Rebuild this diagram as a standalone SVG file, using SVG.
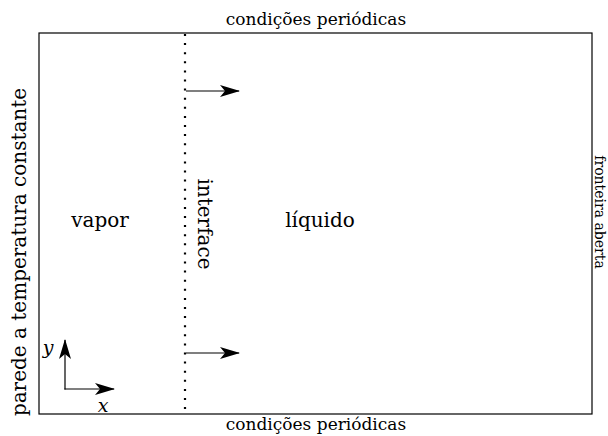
<svg xmlns="http://www.w3.org/2000/svg" width="608" height="436" viewBox="0 0 608 436">
<style>
text{font-family:"DejaVu Serif","Liberation Serif","Noto Serif",serif;font-size:20px;fill:#000}
.per{font-size:17px}
.it{font-style:italic;font-size:19px}
.ln{stroke:#000;stroke-width:1.2;fill:none}
</style>
<defs>
<marker id="ah" viewBox="0 0 20 12" refX="19" refY="6" markerWidth="20" markerHeight="12" markerUnits="userSpaceOnUse" orient="auto">
<path d="M0,0 L20,6 L0,12 L5,6 Z" fill="#000"/>
</marker>
</defs>
<rect width="608" height="436" fill="#fff"/>
<g id="domain">
<rect x="39" y="33" width="553" height="381" fill="none" stroke="#000" stroke-width="1.2"/>
</g>
<g id="interface">
<line x1="185" y1="34" x2="185" y2="414" stroke="#000" stroke-width="2.2" stroke-dasharray="2 7.1"/>
<text transform="translate(198,224) rotate(90)" text-anchor="middle">interface</text>
</g>
<g id="labels">
<text class="per" x="316" y="25" text-anchor="middle">condições periódicas</text>
<text class="per" x="316" y="430" text-anchor="middle">condições periódicas</text>
<text transform="translate(26,252) rotate(-90)" text-anchor="middle">parede a temperatura constante</text>
<text transform="translate(595,212) rotate(90)" text-anchor="middle" style="font-size:14px">fronteira aberta</text>
<text x="100" y="227" text-anchor="middle">vapor</text>
<text x="320" y="227" text-anchor="middle">líquido</text>
<text class="it" x="48" y="354" text-anchor="middle">y</text>
<text class="it" x="103" y="412" text-anchor="middle">x</text>
</g>
<g id="connectors">
<line class="ln" x1="186" y1="91" x2="239" y2="91" marker-end="url(#ah)"/>
<line class="ln" x1="186" y1="353" x2="239" y2="353" marker-end="url(#ah)"/>
<line class="ln" x1="65" y1="389.5" x2="65" y2="340" marker-end="url(#ah)"/>
<line class="ln" x1="64.4" y1="389" x2="114" y2="389" marker-end="url(#ah)"/>
</g>
</svg>
